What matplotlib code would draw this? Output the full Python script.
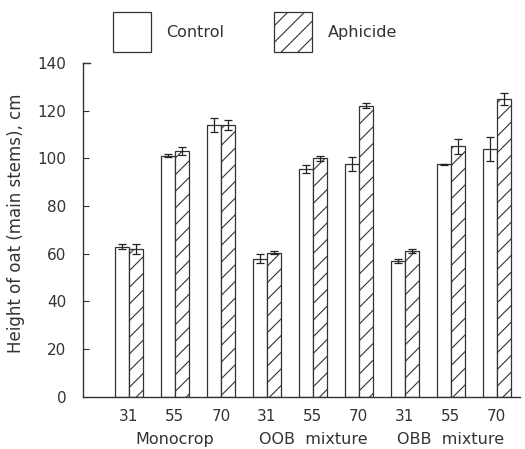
import matplotlib
matplotlib.use("Agg")
import matplotlib.pyplot as plt
import matplotlib.transforms as mtransforms
from matplotlib.patches import Patch
import numpy as np

plt.rcParams['font.family'] = ['DejaVu Sans']
plt.rcParams['hatch.linewidth'] = 0.8

# Data
ages = ['31', '55', '70', '31', '55', '70', '31', '55', '70']
groups = ['Monocrop', 'OOB  mixture', 'OBB  mixture']
control = [63, 101, 114, 58, 95.5, 97.5, 57, 97.5, 104]
control_err = [1.2, 0.6, 3.0, 1.8, 1.6, 3.0, 0.9, 0.3, 5.0]
aphicide = [62, 103, 114, 60.5, 100, 122, 61, 105, 125]
aphicide_err = [2.0, 1.8, 2.0, 0.8, 1.0, 1.0, 0.8, 3.0, 2.5]

x = np.arange(len(ages))
w = 0.3
txt = '#333333'

fig = plt.figure(figsize=(5.25, 4.49), dpi=100)
ax = fig.add_axes([0.158, 0.116, 0.832, 0.744])

err_kw = dict(ecolor='#222222', elinewidth=0.9, capsize=3, capthick=0.9)
ax.bar(x - w / 2, control, w, yerr=control_err, color='white',
       edgecolor=txt, linewidth=0.9, error_kw=err_kw, label='Control')
ax.bar(x + w / 2, aphicide, w, yerr=aphicide_err, color='white',
       edgecolor=txt, linewidth=0.9, hatch='//', error_kw=err_kw,
       label='Aphicide')

ax.set_xlim(-1, 8.5)
ax.set_ylim(0, 140)
ax.set_yticks(np.arange(0, 141, 20))
ax.tick_params(axis='y', direction='in', length=4, width=0.8, labelsize=11,
               pad=12, colors=txt)
ax.set_xticks([])
for s in ['top', 'right']:
    ax.spines[s].set_visible(False)
for s in ['left', 'bottom']:
    ax.spines[s].set_linewidth(1.0)
    ax.spines[s].set_color(txt)
ax.plot([0, 0.015], [1, 1], transform=ax.transAxes, color=txt,
        lw=1.0, clip_on=False)

trans = mtransforms.blended_transform_factory(ax.transData, ax.transAxes)
for xi, a in zip(x, ages):
    ax.text(xi, -0.035, a, transform=trans, ha='center', va='top',
            fontsize=11, color=txt)
for gi, g in enumerate(groups):
    ax.text(3 * gi + 1, -0.105, g, transform=trans, ha='center', va='top',
            fontsize=11.5, color=txt)

ax.set_ylabel('Height of oat (main stems), cm', fontsize=12, color=txt)
ax.yaxis.set_label_coords(-0.133, 0.52)

handles = [Patch(facecolor='white', edgecolor=txt, lw=0.9),
           Patch(facecolor='white', edgecolor=txt, lw=0.9, hatch='//')]
fig.legend(handles, ['Control', 'Aphicide'], loc='upper left',
           bbox_to_anchor=(0.215, 0.973), borderpad=0, borderaxespad=0,
           ncol=2, frameon=False, fontsize=11.5,
           handlelength=2.4, handleheight=3.47, handletextpad=0.95,
           columnspacing=3.1, labelcolor=txt)

fig.savefig('out.png', dpi=100)
